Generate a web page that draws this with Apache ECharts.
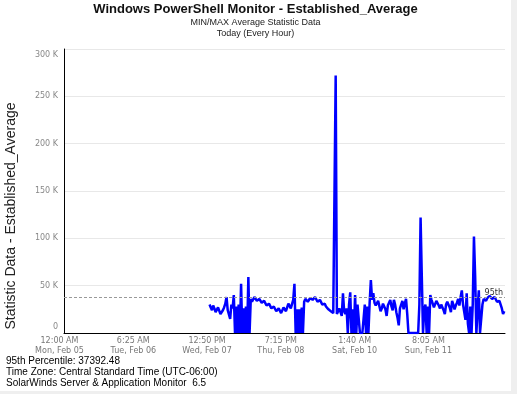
<!DOCTYPE html>
<html>
<head>
<meta charset="utf-8">
<script src="https://cdn.jsdelivr.net/npm/echarts@6/dist/echarts.min.js"></script>
<style>
html,body{margin:0;padding:0;background:#efefef;}
#c{width:511px;height:391px;background:#fff;}
</style>
</head>
<body>
<div id="c"></div>
<script>
// Hours since Mon Feb 05 12:00 AM; one sample every half hour
const startHour = 60;
const stepHours = 0.5;
// Established_Average values, in thousands (K): each pair = [h:00, h:30]
const values = [
  30,27, 24,29, 26,22, 21,27, 25,20, 19,24, 27,31, 38,24, 22,15, 30,26,
  40,0, 28,0, 30,0, 52,0, 26,0, 28,0, 59,0, 36,33, 34,38, 37,34,
  33,36, 35,32, 31,34, 33,29, 28,31, 30,26, 25,28, 27,23, 23,26, 25,21,
  22,27, 26,23, 24,31, 30,26, 27,35, 52,0, 25,0, 25,0, 27,0, 33,36,
  36,33, 34,37, 38,35, 35,38, 37,33, 34,35, 33,30, 30,31, 28,26, 25,27,
  23,24, 21,20, 272,20, 22,26, 25,18, 42,23, 20,26, 0,30, 43,0, 25,0,
  40,0, 30,32, 0,0, 0,0, 30,0, 28,0, 32,56, 35,42, 32,29, 28,34,
  33,23, 26,31, 30,25, 18,29, 31,35, 28,24, 35,30, 22,16, 8,26, 30,34,
  25,31, 36,20, 0,0, 0,0, 0,0, 0,0, 0,30, 122,60, 0,25, 30,0,
  28,0, 40,35, 33,27, 28,34, 33,29, 26,30, 31,24, 20,30, 33,35, 27,22,
  34,30, 25,29, 32,36, 29,38, 45,30, 22,14, 42,10, 0,28, 0,30, 102,60,
  0,25, 45,0, 0,30, 36,38, 34,37, 37,39, 38,36, 35,38, 36,33, 33,34,
  30,26, 20,23
];
const percentile95 = 37392.48;
// x tick positions (hours since Feb 05 00:00) and their labels
const tickHours = [0, 30.41667, 60.83333, 91.25, 121.66667, 152.08333];
const tickTimes = ['12:00 AM', '6:25 AM', '12:50 PM', '7:15 PM', '1:40 AM', '8:05 AM'];
const tickDays = ['Mon, Feb 05', 'Tue, Feb 06', 'Wed, Feb 07', 'Thu, Feb 08', 'Sat, Feb 10', 'Sun, Feb 11'];

const seriesData = values.map((v, i) => [startHour + i * stepHours, v]);

const chart = echarts.init(document.getElementById('c'), null, {renderer: 'canvas'});
chart.setOption({
  animation: false,
  backgroundColor: '#ffffff',
  grid: {left: 64, top: 49, right: 6, bottom: 58, containLabel: false, outerBoundsMode: 'none'},
  xAxis: {
    type: 'value',
    min: 0,
    max: 181.8,
    axisLine: {show: true, onZero: false, lineStyle: {color: '#000', width: 1}},
    axisTick: {show: false},
    splitLine: {show: false},
    axisLabel: {
      customValues: tickHours,
      color: '#777',
      fontFamily: 'DejaVu Sans',
      fontSize: 8,
      lineHeight: 10,
      margin: 3,
      padding: [0, 9, 0, 0],
      hideOverlap: false,
      showMinLabel: true,
      formatter: function (v) {
        let idx = 0, best = 1e9;
        tickHours.forEach((t, i) => { if (Math.abs(t - v) < best) { best = Math.abs(t - v); idx = i; } });
        return tickTimes[idx] + '\n' + tickDays[idx];
      }
    }
  },
  yAxis: {
    type: 'value',
    min: 0,
    max: 300,
    interval: 50,
    axisLine: {show: true, onZero: false, lineStyle: {color: '#000', width: 1}},
    axisTick: {show: false},
    splitLine: {show: true, lineStyle: {color: '#e8e8e8', width: 1}},
    axisLabel: {
      color: '#888',
      fontFamily: 'DejaVu Sans',
      fontSize: 8,
      margin: 6,
      formatter: function (v) {
        if (v === 0) return '{b|0}';
        if (v === 300) return '{t|300 K}';
        return v + ' K';
      },
      rich: {
        t: {padding: [12, 0, 0, 0], color: '#888', fontFamily: 'DejaVu Sans', fontSize: 8},
        b: {padding: [0, 0, 12, 0], color: '#888', fontFamily: 'DejaVu Sans', fontSize: 8}
      }
    }
  },
  series: [{
    type: 'line',
    data: seriesData,
    showSymbol: false,
    symbol: 'none',
    lineStyle: {color: '#0000ff', width: 2.5},
    itemStyle: {color: '#0000ff'},
    markLine: {
      silent: true,
      symbol: 'none',
      lineStyle: {color: '#999', type: [3, 2], width: 1},
      label: {
        show: true,
        position: 'insideEndTop',
        formatter: '95th',
        color: '#333',
        fontFamily: 'DejaVu Sans',
        fontSize: 8,
        distance: [2, 1]
      },
      data: [{yAxis: percentile95 / 1000}]
    }
  }],
  graphic: [
    {type: 'text', left: 'center', top: 3, style: {text: 'Windows PowerShell Monitor - Established_Average', font: 'bold 13px "Liberation Sans", Arial, sans-serif', fill: '#111'}},
    {type: 'text', left: 'center', top: 18, style: {text: 'MIN/MAX Average Statistic Data', font: '9px "Liberation Sans", Arial, sans-serif', fill: '#222'}},
    {type: 'text', left: 'center', top: 29, style: {text: 'Today (Every Hour)', font: '9px "Liberation Sans", Arial, sans-serif', fill: '#222'}},
    {type: 'text', x: 11, y: 216, rotation: Math.PI / 2, style: {text: 'Statistic Data - Established_Average', font: '14px "Liberation Sans", Arial, sans-serif', fill: '#222', textAlign: 'center', textVerticalAlign: 'middle'}},
    {type: 'text', x: 6, y: 361, style: {text: '95th Percentile: 37392.48', font: '10px "Liberation Sans", Arial, sans-serif', fill: '#000', textVerticalAlign: 'middle'}},
    {type: 'text', x: 6, y: 372, style: {text: 'Time Zone: Central Standard Time (UTC-06:00)', font: '10px "Liberation Sans", Arial, sans-serif', fill: '#000', textVerticalAlign: 'middle'}},
    {type: 'text', x: 6, y: 383, style: {text: 'SolarWinds Server & Application Monitor  6.5', font: '10px "Liberation Sans", Arial, sans-serif', fill: '#000', textVerticalAlign: 'middle'}}
  ]
});
</script>
</body>
</html>
